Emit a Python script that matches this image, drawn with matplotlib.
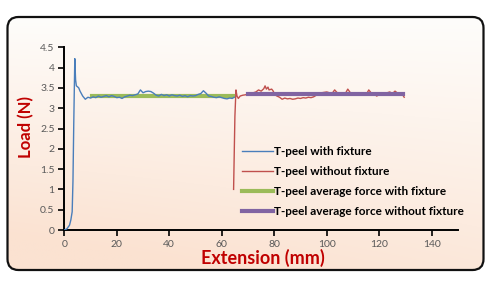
import numpy as np
import matplotlib
matplotlib.use("Agg")
import matplotlib.pyplot as plt
from matplotlib.patches import FancyBboxPatch

# ---- data ----
blue_x = [0, 1, 2, 2.5, 3, 3.3, 3.6, 4.0, 4.3, 4.6, 5, 5.5, 6, 7, 8, 9, 10, 11, 12, 13, 14, 15, 16, 17,
          18, 19, 20, 21, 22, 23, 24, 25, 26, 27, 28, 29, 30, 31, 32, 33, 34, 35, 36, 37, 38, 39,
          40, 41, 42, 43, 44, 45, 46, 47, 48, 49, 50, 51, 52, 53, 54, 55, 56, 57, 58, 59, 60, 61,
          62, 63, 64, 64.7]
blue_y = [0, 0.03, 0.12, 0.25, 0.45, 1.2, 2.6, 4.22, 3.7, 3.55, 3.53, 3.5, 3.42, 3.3, 3.22, 3.27, 3.25,
          3.28, 3.26, 3.3, 3.27, 3.29, 3.31, 3.28, 3.31, 3.29, 3.26, 3.27, 3.24, 3.28, 3.3, 3.32, 3.31,
          3.33, 3.35, 3.45, 3.38, 3.41, 3.42, 3.41, 3.37, 3.32, 3.3, 3.34, 3.31, 3.33, 3.3, 3.33, 3.31,
          3.3, 3.32, 3.29, 3.31, 3.28, 3.31, 3.3, 3.31, 3.34, 3.36, 3.43, 3.37, 3.3, 3.29, 3.27, 3.26,
          3.28, 3.26, 3.24, 3.23, 3.25, 3.24, 3.27]

red_x = [64.5, 65.0, 65.4, 65.8, 66.3, 67, 68, 69, 70, 71, 72, 73, 74, 75, 76, 76.5, 77, 77.6, 78, 79,
         79.5, 80.3, 81, 82, 83, 84, 85, 86, 87, 88, 89, 90, 91, 92, 93, 94, 95, 96, 97, 98, 99, 100,
         101, 102, 103, 104, 105, 106, 107, 108, 109, 110, 111, 112, 113, 114, 115, 116, 117, 118,
         119, 120, 121, 122, 123, 124, 125, 126, 127, 128, 129, 129.5]
red_y = [1.0, 2.8, 3.45, 3.3, 3.24, 3.3, 3.32, 3.33, 3.35, 3.36, 3.38, 3.4, 3.45, 3.42, 3.48, 3.55,
         3.47, 3.52, 3.45, 3.47, 3.43, 3.33, 3.3, 3.27, 3.22, 3.25, 3.23, 3.24, 3.22, 3.23, 3.25,
         3.24, 3.26, 3.25, 3.27, 3.26, 3.28, 3.32, 3.37, 3.38, 3.39, 3.4, 3.38, 3.36, 3.45, 3.38,
         3.37, 3.36, 3.35, 3.47, 3.38, 3.37, 3.35, 3.36, 3.34, 3.35, 3.33, 3.45, 3.37, 3.36, 3.3,
         3.33, 3.35, 3.37, 3.38, 3.4, 3.36, 3.42, 3.37, 3.35, 3.32, 3.27]

avg_with_x = [10.4, 64.3]
avg_with_y = [3.31, 3.31]
avg_without_x = [70, 129]
avg_without_y = [3.36, 3.36]

x_ticks = [0, 20, 40, 60, 80, 100, 120, 140]
y_ticks = [0, 0.5, 1, 1.5, 2, 2.5, 3, 3.5, 4, 4.5]
y_tick_labels = ["0", "0.5", "1", "1.5", "2", "2.5", "3", "3.5", "4", "4.5"]

W, H = 491, 282
fig = plt.figure(figsize=(W / 100, H / 100), dpi=100)
fig.patch.set_facecolor("white")

# background rounded box with gradient
bg = fig.add_axes([0, 0, 1, 1])
bg.set_xlim(0, W)
bg.set_ylim(H, 0)
bg.axis("off")
box = FancyBboxPatch((7.5, 17), 476, 253, boxstyle="round,pad=0,rounding_size=11",
                     facecolor="none", edgecolor="#111111", linewidth=1.6, zorder=3)
bg.add_patch(box)
gy, gx = np.mgrid[0:1:200j, 0:1:300j]
t = np.clip(0.8 * gy + 0.35 * (1 - gx) * gy, 0, 1)
top = np.array([254, 253, 251]) / 255.0
bot = np.array([251, 226, 209]) / 255.0
img = top[None, None, :] * (1 - t[..., None]) + bot[None, None, :] * t[..., None]
im = bg.imshow(img, extent=(7.5, 483.5, 270, 17), aspect="auto", zorder=1)
clip = FancyBboxPatch((7.5, 17), 476, 253, boxstyle="round,pad=0,rounding_size=11",
                      transform=bg.transData, facecolor="none", edgecolor="none")
bg.add_patch(clip)
im.set_clip_path(clip)

ax = fig.add_axes([64.3 / W, 1 - 230 / H, (458 - 64.3) / W, (230 - 47.3) / H])
ax.patch.set_alpha(0)

ax.plot(blue_x, blue_y, color="#4A7EBB", lw=1.0, label="T-peel with fixture", zorder=3)
ax.plot(red_x, red_y, color="#C0504D", lw=1.0, label="T-peel without fixture", zorder=3)
ax.plot(avg_with_x, avg_with_y, color="#9BBB59", lw=3.0, label="T-peel average force with fixture", zorder=2)
ax.plot(avg_without_x, avg_without_y, color="#8064A2", lw=3.0, label="T-peel average force without fixture", zorder=4)

ax.set_xlim(0, 150)
ax.set_ylim(0, 4.5)
ax.set_xticks(x_ticks)
ax.set_yticks(y_ticks)
ax.set_yticklabels(y_tick_labels)
for s in ["top", "right"]:
    ax.spines[s].set_visible(False)
for s in ["left", "bottom"]:
    ax.spines[s].set_linewidth(1.4)
ax.tick_params(direction="out", length=4, width=1.2, colors="black", labelcolor="#595959",
               labelsize=7.5, pad=3)
for lab in ax.get_xticklabels() + ax.get_yticklabels():
    lab.set_fontfamily("Lato")

ax.set_xlabel("Extension (mm)", fontsize=13, fontweight="bold", color="#C00000",
              family="Lato", va="center")
ax.xaxis.set_label_coords(0.505, -0.153)
ax.set_ylabel("Load (N)", fontsize=12, fontweight="bold", color="#C00000",
              family="Lato", va="center")
ax.yaxis.set_label_coords(-0.098, 0.564)

leg = ax.legend(loc="lower left", bbox_to_anchor=(0.44, 0.045), frameon=False,
                prop={"family": "Lato", "weight": "bold", "size": 8.5},
                handlelength=2.6, handletextpad=0.1, labelspacing=0.75, borderaxespad=0)

fig.savefig("out.png", dpi=100)
